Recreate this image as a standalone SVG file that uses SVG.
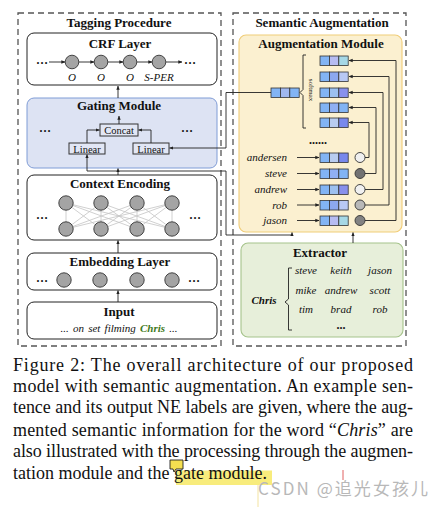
<svg xmlns="http://www.w3.org/2000/svg" width="443" height="507" viewBox="0 0 443 507">
<defs>
<style>
.t{font-family:"Liberation Serif",serif;font-weight:bold;font-size:13px;text-anchor:middle;fill:#111}
.it{font-family:"Liberation Serif",serif;font-style:italic;font-size:11px;fill:#111}
.rm{font-family:"Liberation Serif",serif;font-size:10.5px;fill:#111;text-anchor:middle}
.dots{font-family:"Liberation Serif",serif;font-weight:bold;font-size:12px;fill:#111;text-anchor:middle}
.box{fill:#fff;stroke:#222;stroke-width:1}
.dash{fill:none;stroke:#555;stroke-width:1.3;stroke-dasharray:6 4}
.n{fill:#a4a4a4;stroke:#333;stroke-width:0.9}
.c{fill:none;stroke:#222;stroke-width:0.9}
.g{stroke:#c4c4c4;stroke-width:0.8}
.cell{stroke:#333;stroke-width:0.8}
.sb{fill:#e2e7f5;stroke:#333;stroke-width:1}
.cap{font-family:"Liberation Serif",serif;font-size:18px;fill:#111}
</style>
<marker id="ah" viewBox="0 0 6 6" refX="5.5" refY="3" markerWidth="4.5" markerHeight="4.5" orient="auto"><path d="M0,0.5 L6,3 L0,5.5z" fill="#222"/></marker>
</defs>
<rect width="443" height="507" fill="#fff"/>

<g id="tagging-procedure">
<rect x="18" y="13" width="203" height="333" class="dash"/>
<text x="119" y="27" class="t">Tagging Procedure</text>
</g>
<g id="semantic-augmentation">
<rect x="233" y="13" width="173" height="333" class="dash"/>
<text x="322" y="27" class="t">Semantic Augmentation</text>
</g>

<g id="crf-layer">
<rect x="27" y="33" width="190" height="52" rx="7" class="box"/>
<text x="120" y="48" class="t">CRF Layer</text>
<text x="42" y="64" class="dots">…</text>
<text x="190" y="64" class="dots">…</text>
<line x1="49" y1="62" x2="65" y2="62" class="c" marker-end="url(#ah)"/>
<line x1="79" y1="62" x2="94" y2="62" class="c" marker-end="url(#ah)"/>
<line x1="108" y1="62" x2="123" y2="62" class="c" marker-end="url(#ah)"/>
<line x1="137" y1="62" x2="152" y2="62" class="c" marker-end="url(#ah)"/>
<line x1="166" y1="62" x2="182" y2="62" class="c" marker-end="url(#ah)"/>
<circle cx="72" cy="62" r="6.8" class="n"/>
<circle cx="101" cy="62" r="6.8" class="n"/>
<circle cx="130" cy="62" r="6.8" class="n"/>
<circle cx="159" cy="62" r="6.8" class="n"/>
<g class="it" text-anchor="middle">
<text x="72" y="81">O</text><text x="101" y="81">O</text><text x="130" y="81">O</text><text x="159" y="81">S-PER</text>
</g>
</g>

<g id="gating-module">
<rect x="27" y="98" width="190" height="70" rx="7" fill="#dde3f3" stroke="#7f9cd6" stroke-width="1"/>
<text x="119" y="110" class="t">Gating Module</text>
<text x="45" y="132" class="dots">…</text>
<text x="187" y="132" class="dots">…</text>
</g>
<g id="concat">
<rect x="100" y="124" width="38" height="12" class="sb"/>
<text x="119" y="134" class="rm">Concat</text>
</g>
<g id="linear-left">
<rect x="69" y="143" width="36" height="11" class="sb"/>
<text x="87" y="152.5" class="rm">Linear</text>
</g>
<g id="linear-right">
<rect x="133" y="143" width="36" height="11" class="sb"/>
<text x="151" y="152.5" class="rm">Linear</text>
</g>

<g id="context-encoding">
<rect x="27" y="175" width="190" height="65" rx="7" class="box"/>
<text x="120" y="188" class="t">Context Encoding</text>
<g class="g">
<line x1="66" y1="203" x2="66" y2="229"/><line x1="66" y1="203" x2="101" y2="229"/><line x1="66" y1="203" x2="137" y2="229"/><line x1="66" y1="203" x2="172" y2="229"/>
<line x1="101" y1="203" x2="66" y2="229"/><line x1="101" y1="203" x2="101" y2="229"/><line x1="101" y1="203" x2="137" y2="229"/><line x1="101" y1="203" x2="172" y2="229"/>
<line x1="137" y1="203" x2="66" y2="229"/><line x1="137" y1="203" x2="101" y2="229"/><line x1="137" y1="203" x2="137" y2="229"/><line x1="137" y1="203" x2="172" y2="229"/>
<line x1="172" y1="203" x2="66" y2="229"/><line x1="172" y1="203" x2="101" y2="229"/><line x1="172" y1="203" x2="137" y2="229"/><line x1="172" y1="203" x2="172" y2="229"/>
</g>
<circle cx="66" cy="203" r="7.2" class="n"/><circle cx="101" cy="203" r="7.2" class="n"/><circle cx="137" cy="203" r="7.2" class="n"/><circle cx="172" cy="203" r="7.2" class="n"/>
<circle cx="66" cy="229" r="7.2" class="n"/><circle cx="101" cy="229" r="7.2" class="n"/><circle cx="137" cy="229" r="7.2" class="n"/><circle cx="172" cy="229" r="7.2" class="n"/>
<text x="42" y="219" class="dots">…</text>
<text x="195" y="219" class="dots">…</text>
</g>

<g id="embedding-layer">
<rect x="27" y="253" width="190" height="37" rx="7" class="box"/>
<text x="120" y="266" class="t">Embedding Layer</text>
<circle cx="64" cy="280" r="7.2" class="n"/><circle cx="100" cy="280" r="7.2" class="n"/><circle cx="137" cy="280" r="7.2" class="n"/><circle cx="172" cy="280" r="7.2" class="n"/>
<text x="42" y="282" class="dots">…</text>
<text x="194" y="282" class="dots">…</text>
</g>

<g id="input">
<rect x="27" y="302" width="190" height="37" rx="7" class="box"/>
<text x="119" y="316" class="t">Input</text>
<text x="119" y="332" class="it" text-anchor="middle" word-spacing="1.5">... on set filming <tspan fill="#3f7a22" font-weight="bold">Chris</tspan> ...</text>
</g>

<g id="augmentation-module">
<rect x="239" y="35" width="163" height="197" rx="7" fill="#fbf0d0" stroke="#f0cd78" stroke-width="1.1"/>
<text x="321" y="48" class="t">Augmentation Module</text>
<g class="cell">
<rect x="320" y="56" width="9.4" height="9.5" fill="#82b4f4"/><rect x="329.4" y="56" width="9.4" height="9.5" fill="#b6bcf2"/><rect x="338.8" y="56" width="9.4" height="9.5" fill="#a6d8e6"/>
<rect x="320" y="72" width="9.4" height="9.5" fill="#82b4f4"/><rect x="329.4" y="72" width="9.4" height="9.5" fill="#8ca8f0"/><rect x="338.8" y="72" width="9.4" height="9.5" fill="#b8c8f4"/>
<rect x="320" y="88" width="9.4" height="9.5" fill="#82b4f4"/><rect x="329.4" y="88" width="9.4" height="9.5" fill="#9cc0f0"/><rect x="338.8" y="88" width="9.4" height="9.5" fill="#8890ec"/>
<rect x="320" y="103" width="9.4" height="9.5" fill="#82b4f4"/><rect x="329.4" y="103" width="9.4" height="9.5" fill="#90b0f4"/><rect x="338.8" y="103" width="9.4" height="9.5" fill="#82b4f4"/>
<rect x="320" y="118" width="9.4" height="9.5" fill="#82b4f4"/><rect x="329.4" y="118" width="9.4" height="9.5" fill="#b8ccf0"/><rect x="338.8" y="118" width="9.4" height="9.5" fill="#7888ec"/>
<rect x="271" y="88" width="9.4" height="9.5" fill="#82b4f4"/><rect x="280.4" y="88" width="9.4" height="9.5" fill="#a0b8f0"/><rect x="289.8" y="88" width="9.4" height="9.5" fill="#82b4f4"/>
<rect x="320" y="153" width="9.4" height="9.5" fill="#82b4f4"/><rect x="329.4" y="153" width="9.4" height="9.5" fill="#b8ccf0"/><rect x="338.8" y="153" width="9.4" height="9.5" fill="#7888ec"/>
<rect x="320" y="169" width="9.4" height="9.5" fill="#82b4f4"/><rect x="329.4" y="169" width="9.4" height="9.5" fill="#90b0f4"/><rect x="338.8" y="169" width="9.4" height="9.5" fill="#82b4f4"/>
<rect x="320" y="185" width="9.4" height="9.5" fill="#82b4f4"/><rect x="329.4" y="185" width="9.4" height="9.5" fill="#9cc0f0"/><rect x="338.8" y="185" width="9.4" height="9.5" fill="#8890ec"/>
<rect x="320" y="200.5" width="9.4" height="9.5" fill="#82b4f4"/><rect x="329.4" y="200.5" width="9.4" height="9.5" fill="#8ca8f0"/><rect x="338.8" y="200.5" width="9.4" height="9.5" fill="#b8c8f4"/>
<rect x="320" y="216" width="9.4" height="9.5" fill="#82b4f4"/><rect x="329.4" y="216" width="9.4" height="9.5" fill="#b6bcf2"/><rect x="338.8" y="216" width="9.4" height="9.5" fill="#a6d8e6"/>
</g>
<path d="M306,55 H303 V89.5 L300,92.5 L303,95.5 V128 H306" class="c"/>
<text transform="translate(309,90) rotate(90)" font-family="Liberation Serif,serif" font-size="7" text-anchor="middle" fill="#111">softmax</text>
<text x="318" y="144" class="dots">......</text>
<g class="it" text-anchor="end">
<text x="287" y="161">andersen</text>
<text x="287" y="177">steve</text>
<text x="287" y="193">andrew</text>
<text x="287" y="208.5">rob</text>
<text x="287" y="224">jason</text>
</g>
<line x1="297" y1="157.5" x2="319" y2="157.5" class="c" marker-end="url(#ah)"/>
<line x1="297" y1="173.5" x2="319" y2="173.5" class="c" marker-end="url(#ah)"/>
<line x1="297" y1="189.5" x2="319" y2="189.5" class="c" marker-end="url(#ah)"/>
<line x1="297" y1="205" x2="319" y2="205" class="c" marker-end="url(#ah)"/>
<line x1="297" y1="220.5" x2="319" y2="220.5" class="c" marker-end="url(#ah)"/>
<g class="c">
<path d="M365,157.5 H369 V122.5 H349" marker-end="url(#ah)"/>
<path d="M365,173.5 H376 V107.5 H349" marker-end="url(#ah)"/>
<path d="M365,189.5 H383 V92.5 H349" marker-end="url(#ah)"/>
<path d="M365,205 H389 V76.5 H349" marker-end="url(#ah)"/>
<path d="M365,220.5 H396 V60.5 H349" marker-end="url(#ah)"/>
</g>
<g stroke="#333" stroke-width="0.9">
<circle cx="360" cy="157.5" r="5" fill="#f0f0f0"/>
<circle cx="360" cy="173.5" r="5" fill="#727272"/>
<circle cx="360" cy="189.5" r="5" fill="#f0f0f0"/>
<circle cx="360" cy="205" r="5" fill="#b8b8b8"/>
<circle cx="360" cy="220.5" r="5" fill="#828282"/>
</g>
</g>

<g id="extractor">
<rect x="241" y="243" width="162" height="94" rx="7" fill="#e7efda" stroke="#a6c48c" stroke-width="1.1"/>
<text x="320" y="257" class="t">Extractor</text>
<text x="264" y="304" class="it" text-anchor="middle" fill="#3f7a22" font-weight="bold">Chris</text>
<path d="M292,268 H288.5 V299 L285,302 L288.5,305 V330 H292" class="c"/>
<g class="it" text-anchor="middle" font-size="10.5">
<text x="306" y="274">steve</text><text x="341" y="274">keith</text><text x="380" y="274">jason</text>
<text x="306" y="294">mike</text><text x="341" y="294">andrew</text><text x="380" y="294">scott</text>
<text x="306" y="313">tim</text><text x="341" y="313">brad</text><text x="380" y="313">rob</text>
</g>
<text x="341" y="329" class="dots">...</text>
</g>

<g id="connectors" class="c">
<line x1="118" y1="98" x2="118" y2="86" marker-end="url(#ah)"/>
<line x1="119" y1="124" x2="119" y2="116" marker-end="url(#ah)"/>
<path d="M87,143 V130 H99.5" marker-end="url(#ah)"/>
<path d="M151,143 V130 H138.5" marker-end="url(#ah)"/>
<line x1="118" y1="175" x2="118" y2="168.5" marker-end="url(#ah)"/>
<path d="M226,171 H87 V154.5" marker-end="url(#ah)"/>
<path d="M226,171 V235 H292 V232.5" marker-end="url(#ah)"/>
<path d="M271,92.5 H226 V148 H169.5" marker-end="url(#ah)"/>
<line x1="118" y1="253" x2="118" y2="240.5" marker-end="url(#ah)"/>
<line x1="118" y1="302" x2="118" y2="290.5" marker-end="url(#ah)"/>
<line x1="353" y1="243" x2="353" y2="232.5" marker-end="url(#ah)"/>
</g>

<g id="caption">
<rect x="176" y="470.5" width="96" height="14.5" fill="#f8ec7c"/>
<text x="13" y="371" class="cap" textLength="400" lengthAdjust="spacing">Figure 2:  The overall architecture of our proposed</text>
<text x="13" y="392" class="cap" textLength="400" lengthAdjust="spacing">model with semantic augmentation.  An example sen-</text>
<text x="13" y="413" class="cap" textLength="400" lengthAdjust="spacing">tence and its output NE labels are given, where the aug-</text>
<text x="13" y="436" class="cap" textLength="400" lengthAdjust="spacing">mented semantic information for the word “<tspan font-style="italic">Chris</tspan>” are</text>
<text x="13" y="457" class="cap" textLength="400" lengthAdjust="spacing">also illustrated with the processing through the augmen-</text>
<text x="13" y="479" class="cap">tation module and the gate module.</text>
<path d="M170,460 H183 V469 H176 L174,472 L173,469 H170 Z" fill="#f5e050" stroke="#222" stroke-width="0.9"/>
<line x1="343" y1="470" x2="343" y2="480" stroke="#e06060" stroke-width="1"/>
<line x1="258" y1="485" x2="258" y2="507" stroke="#f3e3a0" stroke-width="1"/>
<text x="258" y="495" font-family="Noto Sans CJK SC, sans-serif" font-size="17" fill="#b8b8b8" textLength="170" lengthAdjust="spacing">CSDN @追光女孩儿</text>
</g>
</svg>
